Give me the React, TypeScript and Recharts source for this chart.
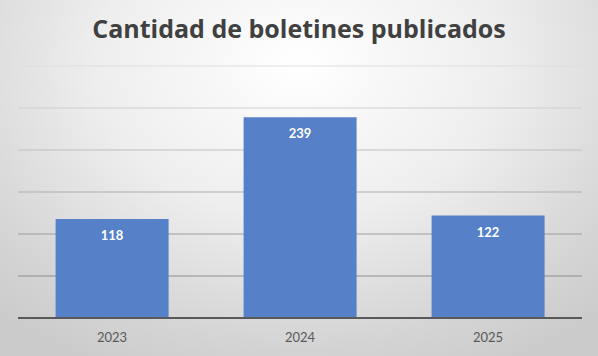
import React from "react";
import { BarChart, Bar, XAxis, YAxis, CartesianGrid, LabelList } from "recharts";

const years = ["2023", "2024", "2025"];
const boletines = [118, 239, 122];
const yTicks = [0, 50, 100, 150, 200, 250, 300];

const data = years.map((year, i) => ({ year, boletines: boletines[i] }));

const App = () => {
  return (
    <div
      style={{
        position: "absolute",
        top: 0,
        left: 0,
        width: 598,
        height: 356,
        background:
          "radial-gradient(ellipse 75% 95% at 50% 18%, #ffffff 0%, #eeeeee 45%, #d6d6d6 80%, #cbcbcb 100%)",
        fontFamily: "Lato, 'Open Sans', sans-serif",
      }}
    >
      <div
        style={{
          position: "absolute",
          top: 11,
          left: 0,
          width: 598,
          textAlign: "center",
          fontFamily: "'Open Sans', sans-serif",
          fontSize: 25,
          fontWeight: 700,
          color: "#404040",
        }}
      >
        Cantidad de boletines publicados
      </div>
      <BarChart
        width={598}
        height={356}
        data={data}
        margin={{ top: 66, right: 16, left: 18, bottom: 8 }}
        barCategoryGap="20%"
        style={{ position: "absolute", top: 0, left: 0 }}
      >
        <defs>
          <linearGradient id="gridFade" x1="0" y1="66" x2="0" y2="318" gradientUnits="userSpaceOnUse">
            <stop offset="0%" stopColor="#dedede" />
            <stop offset="100%" stopColor="#7e7e7e" />
          </linearGradient>
        </defs>
        <CartesianGrid vertical={false} stroke="url(#gridFade)" strokeWidth={1} />
        <XAxis
          dataKey="year"
          height={30}
          tickLine={false}
          tickSize={0}
          tickMargin={15}
          axisLine={{ stroke: "#595959", strokeWidth: 2 }}
          tick={{ fill: "#595959", fontSize: 13 }}
        />
        <YAxis hide domain={[0, 300]} ticks={yTicks} />
        <Bar dataKey="boletines" fill="#5680c7" isAnimationActive={false}>
          <LabelList
            dataKey="boletines"
            position="insideTop"
            offset={12}
            fill="#ffffff"
            fontSize={13}
            fontWeight={700}
          />
        </Bar>
      </BarChart>
    </div>
  );
};

export default App;
